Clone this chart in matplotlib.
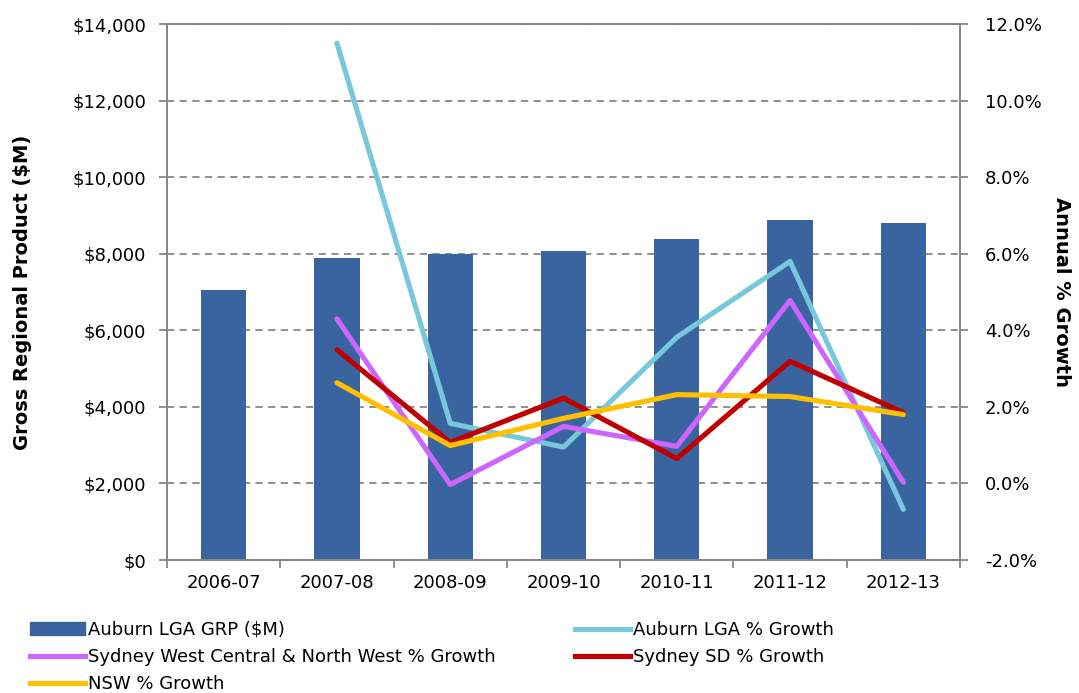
import matplotlib.pyplot as plt
import matplotlib.ticker as mticker
from matplotlib.patches import Patch
from matplotlib.lines import Line2D

years = ['2006-07', '2007-08', '2008-09', '2009-10', '2010-11', '2011-12', '2012-13']
grp = [7050, 7890, 7990, 8070, 8390, 8890, 8810]

# annual % growth (no value for the first year)
auburn_growth = [None, 11.5, 1.57, 0.95, 3.82, 5.80, -0.68]
swc_growth = [None, 4.30, -0.03, 1.49, 0.97, 4.78, 0.03]
sydney_growth = [None, 3.49, 1.07, 2.23, 0.65, 3.19, 1.85]
nsw_growth = [None, 2.63, 0.99, 1.70, 2.32, 2.27, 1.80]

bar_col = '#3A64A0'
cyan = '#77C8DA'
purple = '#CC66FF'
red = '#C00000'
yellow = '#FFC000'
grey = '#878787'

plt.rcParams['font.family'] = 'DejaVu Sans'
plt.rcParams['font.size'] = 13

fig = plt.figure(figsize=(10.79, 6.93), dpi=100)
ax = fig.add_axes([0.1548, 0.1919, 0.7349, 0.7734])
ax2 = ax.twinx()

x = list(range(len(years)))
ax.bar(x, grp, width=0.4, color=bar_col, zorder=2)
ax.set_ylim(0, 14000)
ax.set_xlim(-0.5, 6.5)
ax.yaxis.set_major_locator(mticker.MultipleLocator(2000))
ax.yaxis.set_major_formatter(mticker.FuncFormatter(lambda v, p: '${:,.0f}'.format(v)))
ax.grid(axis='y', color=grey, linestyle=(0, (4, 3)), linewidth=1.3, zorder=0)
ax.set_axisbelow(True)
ax.set_xticks(x)
ax.set_xticklabels(years)
ax.set_xticks([i + 0.5 for i in range(-1, 7)], minor=True)
ax.tick_params(axis='x', which='major', length=0, pad=10)
ax.tick_params(axis='x', which='minor', length=6, color=grey, width=1.3)
ax.tick_params(axis='y', length=6, color=grey, width=1.3, pad=9)
ax.set_ylabel('Gross Regional Product ($M)', fontweight='bold', fontsize=14)
ax.yaxis.set_label_coords(-0.1704, 0.5)

def pts(series):
    xs = [i for i, v in enumerate(series) if v is not None]
    ys = [v for v in series if v is not None]
    return xs, ys

lw = 3.7
for s, c in [(auburn_growth, cyan), (swc_growth, purple), (sydney_growth, red), (nsw_growth, yellow)]:
    xs, ys = pts(s)
    ax2.plot(xs, ys, color=c, linewidth=lw, solid_capstyle='round', solid_joinstyle='round', zorder=3)
ax2.set_ylim(-2, 12)
ax2.yaxis.set_major_locator(mticker.MultipleLocator(2))
ax2.yaxis.set_major_formatter(mticker.FuncFormatter(lambda v, p: '{:.1f}%'.format(v)))
ax2.tick_params(axis='y', length=6, color=grey, width=1.3, pad=12)
ax2.set_ylabel('Annual % Growth', fontweight='bold', rotation=270, fontsize=14, va='center')
ax2.yaxis.set_label_coords(1.1286, 0.5)

for a in (ax, ax2):
    for sp in a.spines.values():
        sp.set_color(grey)
        sp.set_linewidth(1.3)

handles = [
    Patch(color=bar_col, label='Auburn LGA GRP ($M)'),
    Line2D([], [], color=purple, lw=lw, label='Sydney West Central & North West % Growth'),
    Line2D([], [], color=yellow, lw=lw, label='NSW % Growth'),
    Line2D([], [], color=cyan, lw=lw, label='Auburn LGA % Growth'),
    Line2D([], [], color=red, lw=lw, label='Sydney SD % Growth'),
]
fig.legend(handles=handles, ncol=2, loc='upper left', bbox_to_anchor=(0.0278, 0.104),
           frameon=False, handlelength=3.05, handleheight=0.7, handletextpad=0.17,
           columnspacing=4.4, labelspacing=0.5, borderpad=0, borderaxespad=0)

fig.savefig('out.png', dpi=100)
